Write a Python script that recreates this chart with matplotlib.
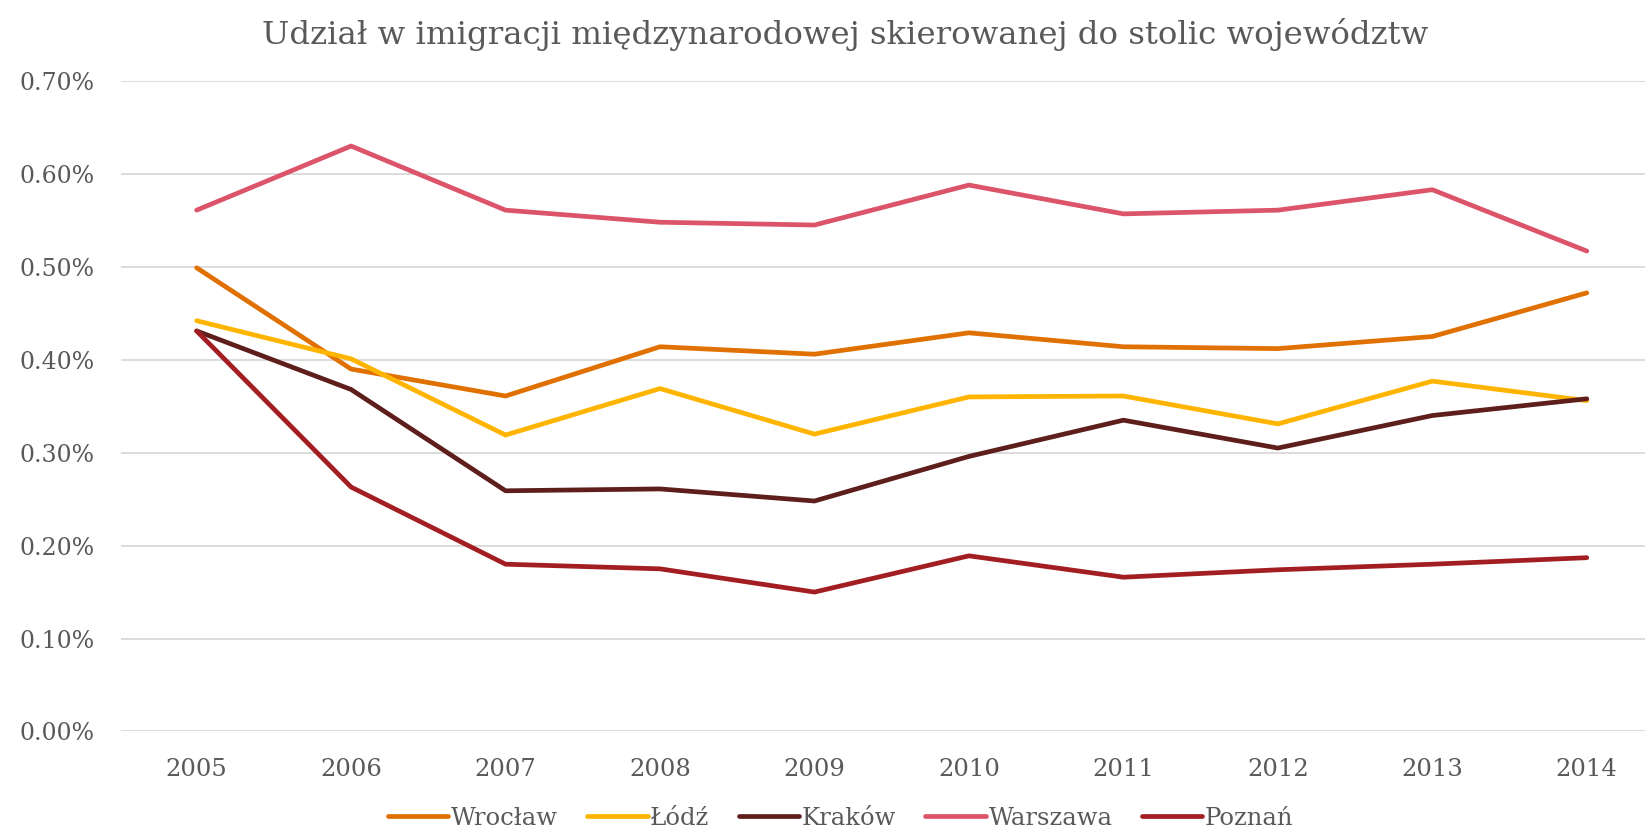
import matplotlib
matplotlib.use('Agg')
import matplotlib.pyplot as plt
from matplotlib.ticker import FuncFormatter

# values in percent
years = ['2005', '2006', '2007', '2008', '2009', '2010', '2011', '2012', '2013', '2014']
wroclaw = [0.499, 0.390, 0.361, 0.414, 0.406, 0.429, 0.414, 0.412, 0.425, 0.472]
lodz = [0.442, 0.401, 0.319, 0.369, 0.320, 0.360, 0.361, 0.331, 0.377, 0.356]
krakow = [0.431, 0.368, 0.259, 0.261, 0.248, 0.296, 0.335, 0.305, 0.340, 0.358]
warszawa = [0.561, 0.630, 0.561, 0.548, 0.545, 0.588, 0.557, 0.561, 0.583, 0.517]
poznan = [0.431, 0.263, 0.180, 0.175, 0.150, 0.189, 0.166, 0.174, 0.180, 0.187]

series = [
    ('Wrocław', wroclaw, '#E07000'),
    ('Łódź', lodz, '#FFB500'),
    ('Kraków', krakow, '#5E1F1C'),
    ('Warszawa', warszawa, '#DC546A'),
    ('Poznań', poznan, '#A21E22'),
]

plt.rcParams['font.family'] = ['DejaVu Serif', 'Liberation Serif']
grey = '#595959'

fig = plt.figure(figsize=(16.48, 8.35), dpi=100)
ax = fig.add_axes([0.0734, 0.124, 0.9246, 0.779])

x = list(range(len(years)))
for name, vals, col in series:
    ax.plot(x, vals, color=col, lw=3.4, label=name, solid_capstyle='round')

ax.set_ylim(0, 0.70)
ax.set_xlim(-0.49, 9.375)
ax.set_yticks([i / 10 for i in range(8)])
ax.yaxis.set_major_formatter(FuncFormatter(lambda v, p: f'{v:.2f}%'))
ax.set_xticks(x)
ax.set_xticklabels(years)
ax.tick_params(axis='both', length=0, colors=grey)
ax.tick_params(axis='x', pad=19, labelsize=17.5)
ax.tick_params(axis='y', pad=19, labelsize=17)
ax.grid(axis='y', color='#D9D9D9', lw=1.3)
ax.set_axisbelow(True)
for s in ax.spines.values():
    s.set_visible(False)

fig.suptitle('Udział w imigracji międzynarodowej skierowanej do stolic województw',
             x=0.513, y=0.978, fontsize=23.3, color=grey, va='top')

leg = fig.legend(loc='lower center', bbox_to_anchor=(0.51, -0.02), ncol=5,
                 frameon=False, fontsize=17.5, handlelength=2.5, handletextpad=0.1,
                 columnspacing=1.2)
for t in leg.get_texts():
    t.set_color(grey)

fig.savefig('out.png', dpi=100, facecolor='white')
